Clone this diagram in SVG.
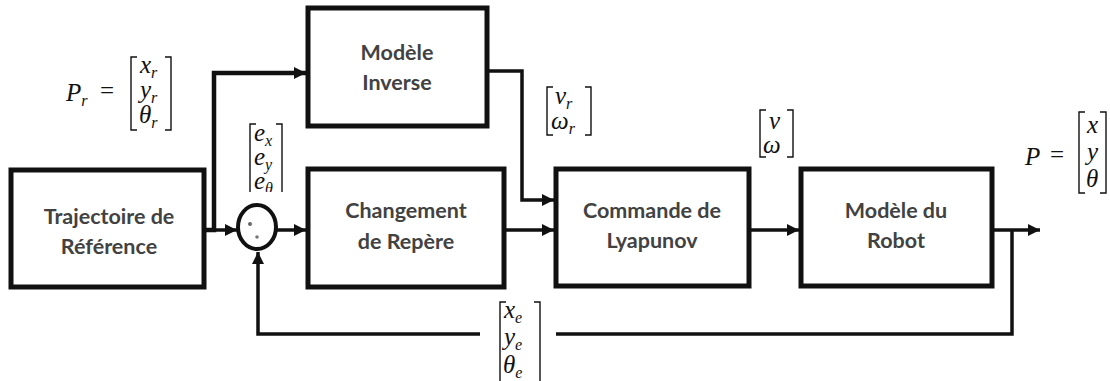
<svg xmlns="http://www.w3.org/2000/svg" width="1110" height="381" viewBox="0 0 1110 381">
  <defs>
    <style>
      .box { fill: #ffffff; stroke: #111111; stroke-width: 5; }
      .lbl { font-family: Lato, "Open Sans", sans-serif; font-weight: bold; font-size: 21.5px; fill: #424242; text-anchor: middle; }
      .wire { fill: none; stroke: #111111; stroke-width: 3.5; }
      .wire-thick { fill: none; stroke: #111111; stroke-width: 4.5; }
      .math { font-family: "Liberation Serif", "Times New Roman", serif; font-style: italic; font-size: 25px; fill: #111111; }
      .up { font-style: normal; }
      .sub { font-size: 16px; }
      .brk { fill: none; stroke: #111111; stroke-width: 1.4; }
    </style>
    <marker id="arrow" viewBox="0 0 10 10" refX="10" refY="5" markerWidth="12" markerHeight="12" markerUnits="userSpaceOnUse" orient="auto">
      <path d="M0,0 L10,5 L0,10 z" fill="#111111"/>
    </marker>
    <clipPath id="clip-e">
      <rect x="240" y="110" width="60" height="82"/>
    </clipPath>
  </defs>

  <rect width="1110" height="381" fill="#ffffff"/>

  <!-- connectors -->
  <g id="connectors">
    <!-- reference trajectory to inverse model -->
    <path class="wire-thick" d="M204,230 H214 V73 H306" marker-end="url(#arrow)"/>
    <!-- reference trajectory to comparator -->
    <path class="wire" d="M204,230 H237" marker-end="url(#arrow)"/>
    <!-- comparator to frame change -->
    <path class="wire" d="M277,230 H306" marker-end="url(#arrow)"/>
    <!-- inverse model feed-forward to controller -->
    <path class="wire" d="M489,71 H522 V200 H554" marker-end="url(#arrow)"/>
    <!-- frame change to controller -->
    <path class="wire" d="M506,230 H554" marker-end="url(#arrow)"/>
    <!-- controller to robot -->
    <path class="wire" d="M751,230 H799" marker-end="url(#arrow)"/>
    <!-- robot output -->
    <path class="wire" d="M994,230 H1040" marker-end="url(#arrow)"/>
    <!-- feedback loop -->
    <path class="wire" d="M1012,230 V334 H258 V252" marker-end="url(#arrow)"/>
  </g>

  <!-- blocks -->
  <g id="node-trajectoire">
    <rect class="box" x="11" y="170" width="193" height="117"/>
    <text class="lbl" x="109" y="224">Trajectoire de</text>
    <text class="lbl" x="109" y="254">Référence</text>
  </g>

  <g id="node-comparateur">
    <ellipse cx="257" cy="227" rx="19" ry="22" fill="#ffffff" stroke="#111111" stroke-width="4"/>
    <circle cx="250" cy="224" r="2" fill="#666666"/>
    <circle cx="257" cy="237" r="1.8" fill="#777777"/>
  </g>

  <g id="node-changement">
    <rect class="box" x="308" y="169" width="196" height="118"/>
    <text class="lbl" x="406" y="218">Changement</text>
    <text class="lbl" x="406" y="249">de Repère</text>
  </g>

  <g id="node-inverse">
    <rect class="box" x="308" y="8" width="179" height="118"/>
    <text class="lbl" x="397" y="60">Modèle</text>
    <text class="lbl" x="397" y="90">Inverse</text>
  </g>

  <g id="node-lyapunov">
    <rect class="box" x="556" y="169" width="193" height="117"/>
    <text class="lbl" x="652" y="218">Commande de</text>
    <text class="lbl" x="652" y="248">Lyapunov</text>
  </g>

  <g id="node-robot">
    <rect class="box" x="801" y="169" width="191" height="117"/>
    <text class="lbl" x="896" y="218">Modèle du</text>
    <text class="lbl" x="896" y="248">Robot</text>
  </g>

  <!-- signal labels -->
  <g id="label-pr">
    <text class="math" x="66" y="101">P<tspan class="sub" dy="5">r</tspan></text>
    <text class="math up" x="100" y="99">=</text>
    <path class="brk" d="M137,57 H131 V130 H137"/>
    <path class="brk" d="M165,57 H171 V130 H165"/>
    <text class="math" x="140" y="73">x<tspan class="sub" dy="5">r</tspan></text>
    <text class="math" x="140" y="98">y<tspan class="sub" dy="5">r</tspan></text>
    <text class="math" x="139" y="123">θ<tspan class="sub" dy="5">r</tspan></text>
  </g>

  <g id="label-e" clip-path="url(#clip-e)">
    <path class="brk" d="M256,124 H250 V200"/>
    <path class="brk" d="M276,124 H282 V200"/>
    <text class="math" x="254" y="141">e<tspan class="sub" dy="5">x</tspan></text>
    <text class="math" x="254" y="165">e<tspan class="sub" dy="5">y</tspan></text>
    <text class="math" x="254" y="189">e<tspan class="sub" dy="5">θ</tspan></text>
  </g>

  <g id="label-vr">
    <path class="brk" d="M553,87 H547 V135 H553"/>
    <path class="brk" d="M585,87 H591 V135 H585"/>
    <text class="math" x="555" y="104">v<tspan class="sub" dy="5">r</tspan></text>
    <text class="math" x="551" y="129">ω<tspan class="sub" dy="5">r</tspan></text>
  </g>

  <g id="label-v">
    <path class="brk" d="M766,110 H760 V157 H766"/>
    <path class="brk" d="M787,110 H793 V157 H787"/>
    <text class="math" x="769" y="129">v</text>
    <text class="math" x="763" y="153">ω</text>
  </g>

  <g id="label-p">
    <text class="math" x="1025" y="165">P</text>
    <text class="math up" x="1050" y="163">=</text>
    <path class="brk" d="M1085,112 H1079 V193 H1085"/>
    <path class="brk" d="M1100,112 H1106 V193 H1100"/>
    <text class="math" x="1087" y="133">x</text>
    <text class="math" x="1087" y="160">y</text>
    <text class="math" x="1086" y="187">θ</text>
  </g>

  <g id="label-xe">
    <rect x="480" y="300" width="76" height="81" fill="#ffffff"/>
    <path class="brk" d="M506,302 H500 V390"/>
    <path class="brk" d="M534,302 H540 V390"/>
    <text class="math" x="504" y="318">x<tspan class="sub" dy="5">e</tspan></text>
    <text class="math" x="504" y="345">y<tspan class="sub" dy="5">e</tspan></text>
    <text class="math" x="503" y="373">θ<tspan class="sub" dy="5">e</tspan></text>
  </g>
</svg>
